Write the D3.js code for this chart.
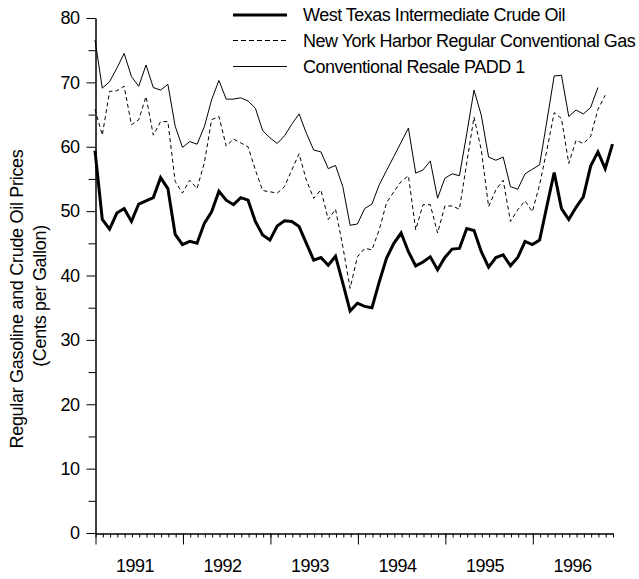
<!DOCTYPE html>
<html>
<head>
<meta charset="utf-8">
<script src="https://cdn.jsdelivr.net/npm/d3@7"></script>
<style>
  body { margin: 0; background: #fff; }
  svg text { font-family: "Liberation Sans", Arial, sans-serif; font-size: 18px; fill: #000; }
</style>
</head>
<body>
<svg id="chart"></svg>
<script>
// monthly prices, cents per gallon, starting January 1991
const wti = [
  59.4, 48.7, 47.2, 49.7, 50.4, 48.4, 51.1, 51.6, 52.1, 55.2, 53.5, 46.4,
  44.8, 45.3, 45.0, 48.1, 49.9, 53.1, 51.7, 51.0, 52.1, 51.7, 48.4, 46.3,
  45.5, 47.7, 48.5, 48.4, 47.6, 45.0, 42.4, 42.8, 41.6, 43.0, 38.8, 34.5,
  35.7, 35.2, 35.0, 39.0, 42.7, 45.0, 46.6, 43.7, 41.5, 42.1, 42.9, 40.9,
  42.8, 44.1, 44.2, 47.3, 47.0, 43.7, 41.3, 42.8, 43.2, 41.5, 42.8, 45.3,
  44.8, 45.5, 50.8, 56.0, 50.4, 48.7, 50.6, 52.2, 57.0, 59.2, 56.6, 60.4
];
const nyhGas = [
  65.8, 61.8, 68.6, 68.7, 69.4, 63.4, 64.2, 67.8, 61.8, 63.9, 63.9, 54.6,
  52.8, 54.8, 53.5, 57.5, 64.2, 64.7, 60.1, 61.2, 60.6, 60.0, 56.4, 53.2,
  53.0, 52.8, 53.8, 56.4, 58.9, 54.8, 52.0, 53.3, 48.7, 50.3, 44.5, 38.0,
  42.9, 44.2, 44.0, 47.1, 51.3, 53.0, 54.6, 55.5, 47.1, 51.0, 51.0, 46.6,
  50.8, 50.8, 50.3, 57.5, 64.6, 59.5, 50.7, 53.3, 54.8, 48.4, 50.2, 51.6,
  49.9, 54.1, 59.5, 65.3, 64.4, 57.4, 61.0, 60.5, 61.6, 65.8, 68.0
];
const padd1 = [
  76.6, 69.1, 70.1, 72.2, 74.5, 70.9, 69.4, 72.7, 69.2, 68.8, 69.7, 63.2,
  59.9, 60.8, 60.4, 63.1, 67.3, 70.3, 67.4, 67.4, 67.6, 67.1, 66.0, 62.5,
  61.4, 60.5, 61.7, 63.5, 65.1, 62.1, 59.5, 59.2, 56.6, 57.1, 53.8, 47.8,
  48.0, 50.4, 51.1, 54.1, 56.3, 58.5, 60.7, 62.9, 55.9, 56.4, 57.8, 52.0,
  55.1, 55.8, 55.5, 62.0, 68.8, 64.9, 58.4, 57.9, 58.4, 53.8, 53.4, 55.8,
  56.5, 57.2, 64.0, 71.0, 71.1, 64.7, 65.7, 65.1, 66.1, 69.2
];
const years = [1991, 1992, 1993, 1994, 1995, 1996];
const yTicks = [0, 10, 20, 30, 40, 50, 60, 70, 80];
const seriesNames = [
  "West Texas Intermediate Crude Oil",
  "New York Harbor Regular Conventional Gas",
  "Conventional Resale PADD 1"
];

const width = 639, height = 579;
const svg = d3.select("#chart").attr("width", width).attr("height", height);

const nMonths = years.length * 12;
const x = d3.scaleLinear().domain([0, nMonths - 1]).range([95, 612.5]);
const y = d3.scaleLinear().domain([0, 80]).range([533, 18]);

// axes
const yMinor = d3.axisLeft(y).tickValues(d3.range(5, 80, 10)).tickSize(7).tickSizeOuter(0).tickFormat("");
const yMajor = d3.axisLeft(y).tickValues(yTicks).tickSize(9).tickSizeOuter(0).tickPadding(7);
const gy = svg.append("g").attr("transform", "translate(95.5,0)");
gy.append("g").call(yMinor);
gy.append("g").call(yMajor);

const xMinor = d3.axisBottom(x).tickValues(d3.range(0, nMonths)).tickSize(4).tickSizeOuter(0).tickFormat("");
const xMajor = d3.axisBottom(x).tickValues(d3.range(0, nMonths, 12)).tickSize(11).tickSizeOuter(0).tickFormat("");
const gx = svg.append("g").attr("transform", "translate(0.5,533.5)");
gx.append("g").call(xMinor);
gx.append("g").call(xMajor);

svg.selectAll(".domain").attr("stroke", "#000");
svg.selectAll(".tick line").attr("stroke", "#000");
svg.selectAll(".tick text").style("font-size", "18px").style("letter-spacing", "-0.5px");

// year labels centred on each year
svg.append("g").selectAll("text")
  .data(years)
  .join("text")
  .attr("x", (d, i) => x(i * 12 + 5.5))
  .attr("y", 572)
  .attr("text-anchor", "middle")
  .style("letter-spacing", "-0.5px")
  .text(d => d);

// y axis title
const title = svg.append("g").attr("transform", "rotate(-90)");
title.append("text")
  .attr("x", -299).attr("y", 22.5)
  .attr("text-anchor", "middle")
  .style("letter-spacing", "-0.3px")
  .text("Regular Gasoline and Crude Oil Prices");
title.append("text")
  .attr("x", -296).attr("y", 45.5)
  .attr("text-anchor", "middle")
  .style("letter-spacing", "-0.3px")
  .text("(Cents per Gallon)");

// lines
const line = d3.line().x((d, i) => x(i)).y(d => y(d));
const styles = [
  { data: wti, width: 3, dash: null },
  { data: nyhGas, width: 1, dash: "4,3" },
  { data: padd1, width: 1, dash: null }
];

svg.append("g").selectAll("path")
  .data(styles)
  .join("path")
  .attr("d", d => line(d.data))
  .attr("fill", "none")
  .attr("stroke", "#000")
  .attr("stroke-width", d => d.width)
  .attr("stroke-dasharray", d => d.dash)
  .attr("stroke-linejoin", "miter");

// legend
const legend = svg.append("g");
const legendY = [15, 40.5, 66.5];
legend.selectAll("line")
  .data(styles)
  .join("line")
  .attr("x1", 233).attr("x2", 287)
  .attr("y1", (d, i) => legendY[i]).attr("y2", (d, i) => legendY[i])
  .attr("stroke", "#000")
  .attr("stroke-width", d => d.width)
  .attr("stroke-dasharray", d => d.dash ? "5,3" : null);
legend.selectAll("text")
  .data(seriesNames)
  .join("text")
  .attr("x", 303)
  .attr("y", (d, i) => legendY[i] + 6)
  .style("letter-spacing", "-0.5px")
  .text(d => d);
</script>
</body>
</html>
